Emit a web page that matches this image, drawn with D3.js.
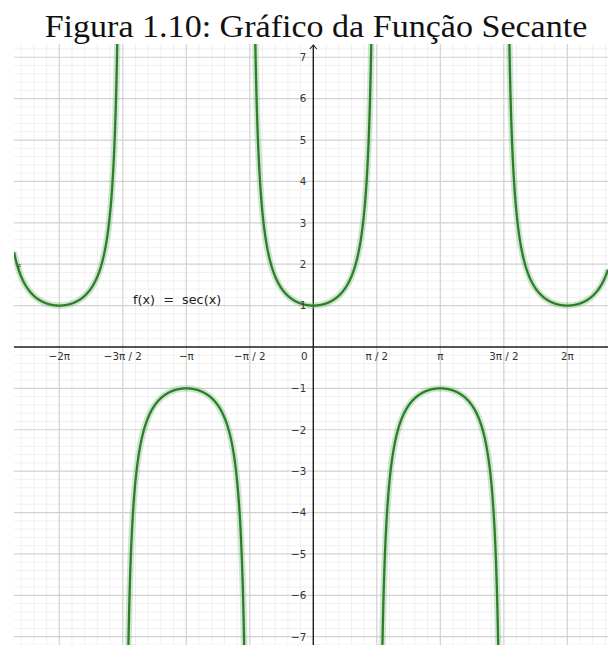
<!DOCTYPE html>
<html>
<head>
<meta charset="utf-8">
<script src="https://cdn.jsdelivr.net/npm/d3@7"></script>
<style>
  html, body { margin: 0; padding: 0; background: #fff; }
  svg { display: block; }
</style>
</head>
<body>
<svg id="chart" width="608" height="645"></svg>
<script>
// Title and function label
const titleText = "Figura 1.10: Gráfico da Função Secante";
const functionLabel = "f(x) = sec(x)";
const curveName = "f";

// Visible window in graph units
const xDomain = [-7.403, 7.289];
const yDomain = [-7.20, 7.32];

// x ticks in multiples of π/2, with their labels
const xTickMultiples = [-4, -3, -2, -1, 1, 2, 3, 4];
const xTickLabels = ["\u22122\u03c0", "\u22123\u03c0 / 2", "\u2212\u03c0", "\u2212\u03c0 / 2", "\u03c0 / 2", "\u03c0", "3\u03c0 / 2", "2\u03c0"];

// y ticks
const yTicks = [-7, -6, -5, -4, -3, -2, -1, 1, 2, 3, 4, 5, 6, 7];

// Each branch of sec(x) lies between two vertical asymptotes (multiples of π/2)
const branchBounds = [[-5, -3], [-3, -1], [-1, 1], [1, 3], [3, 5]];

// The plotted function, as named in the label
const sec = x => 1 / Math.cos(x);

const svg = d3.select("#chart");
const plot = { left: 14, right: 608, top: 44, bottom: 645 };

const x = d3.scaleLinear().domain(xDomain).range([plot.left, plot.right]);
const y = d3.scaleLinear().domain(yDomain).range([plot.bottom, plot.top]);

svg.append("defs").append("clipPath").attr("id", "plotClip")
  .append("rect")
  .attr("x", plot.left).attr("y", plot.top)
  .attr("width", plot.right - plot.left).attr("height", plot.bottom - plot.top);

const g = svg.append("g").attr("clip-path", "url(#plotClip)");

// Grid: minor every π/10 horizontally and 0.2 vertically, major every π/2 and 1
const halfPi = Math.PI / 2;
const minorX = d3.range(Math.ceil(xDomain[0] / (Math.PI / 10)), Math.floor(xDomain[1] / (Math.PI / 10)) + 1)
  .filter(i => i % 5 !== 0).map(i => i * Math.PI / 10);
const majorX = d3.range(Math.ceil(xDomain[0] / halfPi), Math.floor(xDomain[1] / halfPi) + 1)
  .filter(i => i !== 0).map(i => i * halfPi);
const minorY = d3.range(Math.ceil(yDomain[0] * 5), Math.floor(yDomain[1] * 5) + 1)
  .filter(i => i % 5 !== 0).map(i => i / 5);
const majorY = d3.range(Math.ceil(yDomain[0]), Math.floor(yDomain[1]) + 1).filter(v => v !== 0);

g.selectAll("line.minor-x").data(minorX).join("line")
  .attr("x1", d => x(d)).attr("x2", d => x(d))
  .attr("y1", plot.top).attr("y2", plot.bottom)
  .attr("stroke", "#f0f0f0").attr("stroke-width", 1);
g.selectAll("line.minor-y").data(minorY).join("line")
  .attr("y1", d => y(d)).attr("y2", d => y(d))
  .attr("x1", plot.left).attr("x2", plot.right)
  .attr("stroke", "#f0f0f0").attr("stroke-width", 1);
g.selectAll("line.major-x").data(majorX).join("line")
  .attr("x1", d => x(d)).attr("x2", d => x(d))
  .attr("y1", plot.top).attr("y2", plot.bottom)
  .attr("stroke", "#d2d2d2").attr("stroke-width", 1.2);
g.selectAll("line.major-y").data(majorY).join("line")
  .attr("y1", d => y(d)).attr("y2", d => y(d))
  .attr("x1", plot.left).attr("x2", plot.right)
  .attr("stroke", "#d2d2d2").attr("stroke-width", 1.2);

// Axes
g.append("line")
  .attr("x1", plot.left).attr("x2", plot.right)
  .attr("y1", y(0)).attr("y2", y(0))
  .attr("stroke", "#1e1e1e").attr("stroke-width", 1.4);
g.append("line")
  .attr("x1", x(0)).attr("x2", x(0))
  .attr("y1", plot.top + 1).attr("y2", plot.bottom)
  .attr("stroke", "#1e1e1e").attr("stroke-width", 1.4);
// Arrowhead at the top of the y axis
g.append("path")
  .attr("d", `M${x(0) - 3.5},${plot.top + 5} L${x(0)},${plot.top + 1} L${x(0) + 3.5},${plot.top + 5}`)
  .attr("fill", "none").attr("stroke", "#1e1e1e").attr("stroke-width", 1.1);

// Tick labels
const tickFont = "'DejaVu Sans', sans-serif";
svg.append("g").selectAll("text").data(xTickMultiples).join("text")
  .attr("x", d => x(d * halfPi))
  .attr("y", y(0) + 13.5)
  .attr("text-anchor", "middle")
  .attr("font-family", tickFont).attr("font-size", 10.3).attr("fill", "#333")
  .text((d, i) => xTickLabels[i]);
svg.append("text")
  .attr("x", x(0) - 9).attr("y", y(0) + 13.5)
  .attr("text-anchor", "middle")
  .attr("font-family", tickFont).attr("font-size", 10.3).attr("fill", "#333")
  .text("0");
svg.append("g").selectAll("text").data(yTicks).join("text")
  .attr("x", x(0) - 7)
  .attr("y", d => y(d) + 3.8)
  .attr("text-anchor", "end")
  .attr("font-family", tickFont).attr("font-size", 10.3).attr("fill", "#333")
  .text(d => d < 0 ? "\u2212" + Math.abs(d) : String(d));

// Curve: one path per branch, sampled along each interval between asymptotes
const line = d3.line().x(d => x(d[0])).y(d => y(d[1])).curve(d3.curveLinear);
const branches = branchBounds.map(([a, b]) => {
  const lo = Math.max(a * halfPi + 0.02, xDomain[0]);
  const hi = Math.min(b * halfPi - 0.02, xDomain[1]);
  const n = 600;
  return d3.range(n + 1).map(i => lo + (hi - lo) * i / n)
    .map(t => [t, Math.max(-12, Math.min(12, sec(t)))]);
});

const curves = g.append("g");
curves.selectAll("path.halo").data(branches).join("path")
  .attr("d", line).attr("fill", "none")
  .attr("stroke", "#6fb96f").attr("stroke-opacity", 0.35)
  .attr("stroke-width", 6.5).attr("stroke-linejoin", "round");
curves.selectAll("path.main").data(branches).join("path")
  .attr("d", line).attr("fill", "none")
  .attr("stroke", "#2e7d2e").attr("stroke-width", 2.3).attr("stroke-linejoin", "round");

// Curve name near the left edge
svg.append("text")
  .attr("x", 17).attr("y", 272)
  .attr("font-family", tickFont).attr("font-size", 10.5).attr("fill", "#2e6b2e")
  .text(curveName);

// Function label, with wide spacing around the equals sign
svg.append("text")
  .attr("x", 133).attr("y", 304)
  .attr("font-family", tickFont).attr("font-size", 12.8).attr("fill", "#222")
  .attr("xml:space", "preserve")
  .style("white-space", "pre")
  .text(functionLabel.replace(" = ", "  =  "));

// Title, widened horizontally to the full heading width
const titleCenter = 316, titleWidth = 543;
const title = svg.append("text")
  .attr("x", 0).attr("y", 37.5)
  .attr("text-anchor", "middle")
  .attr("font-family", "'Liberation Serif', serif")
  .attr("font-size", 31).attr("fill", "#111")
  .text(titleText);
const w = title.node().getComputedTextLength();
title.attr("transform", `translate(${titleCenter},0) scale(${(titleWidth / w).toFixed(4)},1)`);
</script>
</body>
</html>
